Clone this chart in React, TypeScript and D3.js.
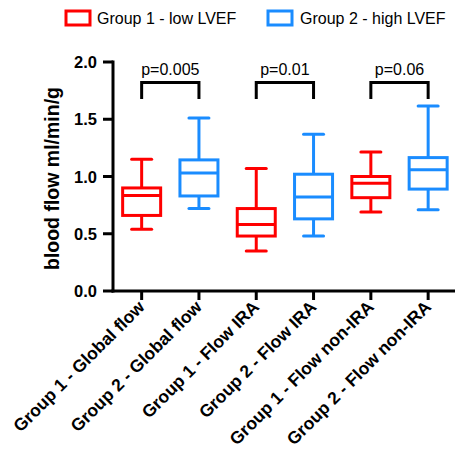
import React from "react";
import * as d3 from "d3";

const categories = [
  "Group 1 - Global flow",
  "Group 2 - Global flow",
  "Group 1 - Flow IRA",
  "Group 2 - Flow IRA",
  "Group 1 - Flow non-IRA",
  "Group 2 - Flow non-IRA",
];
const groups = [1, 2, 1, 2, 1, 2];
const whiskerLow = [0.54, 0.72, 0.35, 0.48, 0.69, 0.71];
const q1 = [0.66, 0.83, 0.48, 0.63, 0.815, 0.89];
const median = [0.835, 1.03, 0.58, 0.82, 0.94, 1.06];
const q3 = [0.9, 1.145, 0.72, 1.02, 1.0, 1.165];
const whiskerHigh = [1.15, 1.51, 1.07, 1.37, 1.215, 1.615];
const yTicks = [0, 0.5, 1.0, 1.5, 2.0];
const comparisons = [
  { a: 0, b: 1, label: "p=0.005" },
  { a: 2, b: 3, label: "p=0.01" },
  { a: 4, b: 5, label: "p=0.06" },
];
const legendLabels = ["Group 1 - low LVEF", "Group 2 - high LVEF"];

const RED = "#ff0000";
const BLUE = "#1a8cff";
const FONT = "'Liberation Sans', Arial, sans-serif";

export default function App() {
  const W = 455, H = 455;
  const x0 = 113, yBottom = 291, yTop = 62;
  const x = d3.scaleBand<string>().domain(categories).range([x0, x0 + 6 * 57.3]).padding(0);
  const y = d3.scaleLinear().domain([0, 2]).range([yBottom, yTop]);
  const cx = (i: number) => (x(categories[i]) as number) + x.bandwidth() / 2;
  const boxW = 38, capW = 20, sw = 3;
  const color = (g: number) => (g === 1 ? RED : BLUE);

  return (
    <svg width={W} height={H} style={{ position: "absolute", left: 0, top: 0 }} fontFamily={FONT}>
      {/* legend */}
      <rect x={66} y={11} width={24} height={14} fill="none" stroke={RED} strokeWidth={3} />
      <text x={97} y={24} fontSize={16} fill="#000">{legendLabels[0]}</text>
      <rect x={268} y={11} width={24} height={14} fill="none" stroke={BLUE} strokeWidth={3} />
      <text x={300} y={24} fontSize={16} fill="#000">{legendLabels[1]}</text>

      {/* y axis */}
      <line x1={x0} x2={x0} y1={y(2) - 1.5} y2={yBottom + 1.5} stroke="#000" strokeWidth={sw} />
      {yTicks.map((t) => (
        <g key={t}>
          <line x1={x0 - 10} x2={x0} y1={y(t)} y2={y(t)} stroke="#000" strokeWidth={sw} />
          <text x={x0 - 16} y={y(t) + 6} textAnchor="end" fontSize={16.5} fontWeight="bold">
            {d3.format(".1f")(t)}
          </text>
        </g>
      ))}
      <text
        transform={`translate(59,${(y(0) + y(2)) / 2 + 2}) rotate(-90)`}
        textAnchor="middle"
        fontSize={19.5}
        fontWeight="bold"
      >
        blood flow ml/min/g
      </text>

      {/* x axis */}
      <line x1={x0 - 1.5} x2={W} y1={yBottom} y2={yBottom} stroke="#000" strokeWidth={sw} />
      {categories.map((c, i) => (
        <g key={c}>
          <line x1={cx(i)} x2={cx(i)} y1={yBottom} y2={yBottom + 9} stroke="#000" strokeWidth={sw} />
          <text
            transform={`translate(${cx(i) + 4},${yBottom + 17}) rotate(-45)`}
            textAnchor="end"
            fontSize={17.5}
            fontWeight="bold"
          >
            {c}
          </text>
        </g>
      ))}

      {/* boxes */}
      {categories.map((c, i) => {
        const col = color(groups[i]);
        const xc = cx(i);
        return (
          <g key={"b" + i} stroke={col} strokeWidth={sw} fill="none">
            <line x1={xc} x2={xc} y1={y(whiskerHigh[i])} y2={y(q3[i])} />
            <line x1={xc} x2={xc} y1={y(q1[i])} y2={y(whiskerLow[i])} />
            <line x1={xc - capW / 2} x2={xc + capW / 2} y1={y(whiskerHigh[i])} y2={y(whiskerHigh[i])} strokeLinecap="round" />
            <line x1={xc - capW / 2} x2={xc + capW / 2} y1={y(whiskerLow[i])} y2={y(whiskerLow[i])} strokeLinecap="round" />
            <rect x={xc - boxW / 2} y={y(q3[i])} width={boxW} height={y(q1[i]) - y(q3[i])} />
            <line x1={xc - boxW / 2} x2={xc + boxW / 2} y1={y(median[i])} y2={y(median[i])} />
          </g>
        );
      })}

      {/* significance brackets */}
      {comparisons.map((cmp) => {
        const xa = cx(cmp.a), xb = cx(cmp.b);
        const top = 82.5, bot = 99;
        return (
          <g key={cmp.label}>
            <path d={`M${xa},${bot}V${top}H${xb}V${bot}`} fill="none" stroke="#000" strokeWidth={sw} />
            <text x={(xa + xb) / 2} y={75} textAnchor="middle" fontSize={16}>
              {cmp.label}
            </text>
          </g>
        );
      })}
    </svg>
  );
}
